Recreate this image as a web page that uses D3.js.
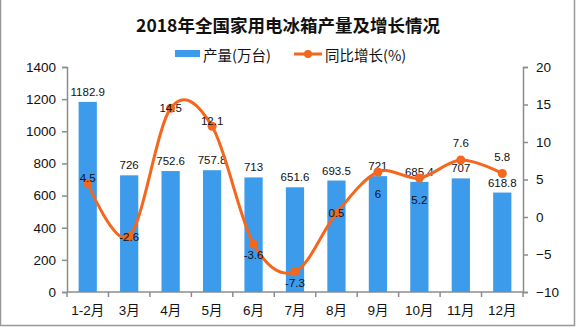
<!DOCTYPE html>
<html>
<head>
<meta charset="utf-8">
<script src="https://cdn.jsdelivr.net/npm/d3@7"></script>
<style>
  html, body { margin: 0; padding: 0; background: #fff; }
  svg { display: block; }
</style>
</head>
<body>
<svg id="chart" width="576" height="327"></svg>
<script>
// ---- data ----
const categories = ['1-2月', '3月', '4月', '5月', '6月', '7月', '8月', '9月', '10月', '11月', '12月'];
const production = [1182.9, 726, 752.6, 757.8, 713, 651.6, 693.5, 721, 685.4, 707, 618.8];
const growth = [4.5, -2.6, 14.5, 12.1, -3.6, -7.3, 0.5, 6, 5.2, 7.6, 5.8];
const leftTicks = [0, 200, 400, 600, 800, 1000, 1200, 1400];
const rightTicks = [-10, -5, 0, 5, 10, 15, 20];
const growthLabelPlacement = ['near', 'on', 'on', 'near', 'below', 'below', 'on', 'low', 'low', 'above', 'above'];
const title = '2018年全国家用电冰箱产量及增长情况';
const legendLabels = ['产量(万台)', '同比增长(%)'];

// ---- drawing ----
const W = 576, H = 327;
const plot = { left: 67, right: 523, top: 67, bottom: 292 };
const barColor = '#3D9BEC';
const lineColor = '#F5661E';
const axisColor = '#8C8C8C';
const numFont = '"Liberation Sans", "Noto Sans CJK SC", sans-serif';
const cjkFont = '"Noto Sans CJK SC", sans-serif';

const svg = d3.select('#chart');

// frame
svg.append('path')
  .attr('d', `M0.5,0 V${H - 1.5} H${W - 1.5} V0`)
  .attr('fill', 'none').attr('stroke', '#999').attr('stroke-width', 1.5);

const x = d3.scaleBand().domain(categories)
  .range([plot.left, plot.right]).paddingInner(0.56).paddingOuter(0.28);
const yL = d3.scaleLinear().domain([0, 1400]).range([plot.bottom, plot.top]);
const yR = d3.scaleLinear().domain([-10, 20]).range([plot.bottom, plot.top]);

// title
svg.append('text')
  .attr('x', W / 2).attr('y', 24)
  .attr('text-anchor', 'middle').attr('dominant-baseline', 'central')
  .style('font-family', cjkFont).style('font-weight', 'bold').style('font-size', '17.5px')
  .attr('fill', '#111').text(title);

// legend
const lg = svg.append('g');
lg.append('rect').attr('x', 175).attr('y', 50).attr('width', 25).attr('height', 7).attr('fill', barColor);
lg.append('text').attr('x', 203).attr('y', 54).attr('dominant-baseline', 'central')
  .style('font-family', cjkFont).style('font-size', '14.5px').attr('fill', '#111').text(legendLabels[0]);
lg.append('line').attr('x1', 294).attr('x2', 322).attr('y1', 54).attr('y2', 54)
  .attr('stroke', lineColor).attr('stroke-width', 3);
lg.append('circle').attr('cx', 308).attr('cy', 54).attr('r', 4).attr('fill', lineColor);
lg.append('text').attr('x', 325).attr('y', 54).attr('dominant-baseline', 'central')
  .style('font-family', cjkFont).style('font-size', '14.5px').attr('fill', '#111').text(legendLabels[1]);

// axes
const axL = svg.append('g').attr('transform', `translate(${plot.left},0)`)
  .call(d3.axisLeft(yL).tickValues(leftTicks).tickSize(5).tickPadding(6).tickFormat(d3.format('d')));
const axR = svg.append('g').attr('transform', `translate(${plot.right},0)`)
  .call(d3.axisRight(yR).tickValues(rightTicks).tickSize(5).tickPadding(8)
    .tickFormat(d => d < 0 ? '−' + Math.abs(d) : d));
[axL, axR].forEach(a => {
  a.select('.domain').attr('stroke', axisColor).attr('stroke-width', 1.5);
  a.selectAll('.tick line').attr('stroke', axisColor).attr('stroke-width', 1.5);
  a.selectAll('.tick text').style('font-family', numFont).style('font-size', '13.5px').attr('fill', '#111');
});

// x axis
const xg = svg.append('g');
xg.append('line').attr('x1', plot.left).attr('x2', plot.right)
  .attr('y1', plot.bottom).attr('y2', plot.bottom)
  .attr('stroke', axisColor).attr('stroke-width', 1.5);
const step = x.step();
xg.selectAll('line.tk').data(d3.range(categories.length + 1)).join('line')
  .attr('class', 'tk')
  .attr('x1', i => plot.left + i * step).attr('x2', i => plot.left + i * step)
  .attr('y1', plot.bottom).attr('y2', plot.bottom + 5)
  .attr('stroke', axisColor).attr('stroke-width', 1.5);
xg.selectAll('text').data(categories).join('text')
  .attr('x', d => x(d) + x.bandwidth() / 2).attr('y', 310)
  .attr('text-anchor', 'middle').attr('dominant-baseline', 'central')
  .style('font-family', numFont).style('font-size', '13.5px').attr('fill', '#111')
  .text(d => d);

// bars
svg.append('g').selectAll('rect').data(production).join('rect')
  .attr('x', (d, i) => x(categories[i]))
  .attr('y', d => yL(d))
  .attr('width', x.bandwidth())
  .attr('height', d => yL(0) - yL(d))
  .attr('fill', barColor);

// bar labels
svg.append('g').selectAll('text').data(production).join('text')
  .attr('x', (d, i) => x(categories[i]) + x.bandwidth() / 2)
  .attr('y', d => yL(d) - 10)
  .attr('text-anchor', 'middle').attr('dominant-baseline', 'central')
  .style('font-family', numFont).style('font-size', '11.5px').attr('fill', '#111')
  .text(d => d);

// line
const cx = i => x(categories[i]) + x.bandwidth() / 2;
const line = d3.line().x((d, i) => cx(i)).y(d => yR(d)).curve(d3.curveCatmullRom.alpha(0));
svg.append('path').datum(growth).attr('d', line)
  .attr('fill', 'none').attr('stroke', lineColor).attr('stroke-width', 3);
svg.append('g').selectAll('circle').data(growth).join('circle')
  .attr('cx', (d, i) => cx(i)).attr('cy', d => yR(d)).attr('r', 4.5).attr('fill', lineColor);

// growth labels
const placeOffset = { above: -17, near: -5, on: 0, below: 11, low: 22 };
svg.append('g').selectAll('text').data(growth).join('text')
  .attr('x', (d, i) => cx(i))
  .attr('y', (d, i) => yR(d) + placeOffset[growthLabelPlacement[i]])
  .attr('text-anchor', 'middle').attr('dominant-baseline', 'central')
  .style('font-family', numFont).style('font-size', '11.5px').attr('fill', '#111')
  .text(d => d);
</script>
</body>
</html>
